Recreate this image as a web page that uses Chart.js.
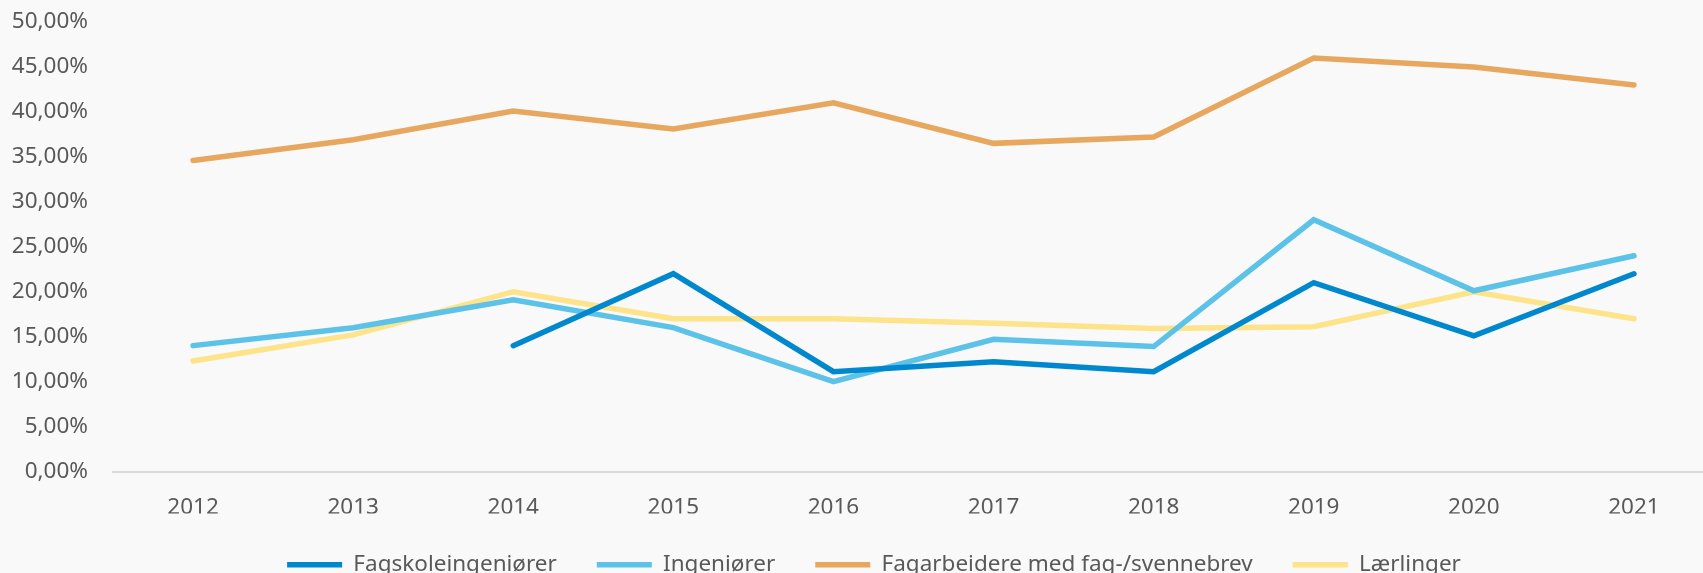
<!DOCTYPE html>
<html>
<head>
<meta charset="utf-8">
<script src="https://cdn.jsdelivr.net/npm/chart.js@4/dist/chart.umd.min.js"></script>
<style>
  html, body { margin: 0; padding: 0; background: #f9f9f9; overflow: hidden; }
  #wrap { position: relative; width: 1720px; height: 586px; }
</style>
</head>
<body>
<div id="wrap"><canvas id="myChart"></canvas></div>
<script>
const years = ['2012', '2013', '2014', '2015', '2016', '2017', '2018', '2019', '2020', '2021'];

const fagskoleingeniorer = [null, null, 14.0, 22.0, 11.1, 12.2, 11.1, 21.0, 15.1, 22.0];
const ingeniorer = [14.0, 16.0, 19.1, 16.0, 10.0, 14.7, 13.9, 28.0, 20.1, 24.0];
const fagarbeidere = [34.6, 36.9, 40.1, 38.1, 41.0, 36.5, 37.2, 46.0, 45.0, 43.0];
const laerlinger = [12.3, 15.2, 20.0, 17.0, 17.0, 16.5, 15.9, 16.1, 20.0, 17.0];

const seriesNames = ['Fagskoleingeniører', 'Ingeniører', 'Fagarbeidere med fag-/svennebrev', 'Lærlinger'];
const seriesColors = ['#0088cf', '#5cc2e8', '#e8a75f', '#fde38a'];

Chart.defaults.font.family = '"Noto Sans", "Open Sans", sans-serif';
Chart.defaults.font.size = 22.5;
Chart.defaults.color = '#595959';

function line(label, data, color) {
    return {
        label: label,
        data: data,
        borderColor: color,
        backgroundColor: color,
        borderWidth: 5.5,
        borderCapStyle: 'round',
        borderJoinStyle: 'miter',
        pointRadius: 0,
        pointHoverRadius: 0,
        tension: 0,
        fill: false
    };
}

function pct(v) {
    return v.toFixed(2).replace('.', ',') + '%';
}

// the legend sits a bit right of the canvas middle
const shiftLegend = {
    id: 'shiftLegend',
    afterLayout(chart) {
        chart.legend.left += 12;
        chart.legend.right += 12;
    }
};

const ctx = document.getElementById('myChart');
var mychart = new Chart(ctx, {
    type: 'line',
    data: {
        labels: years,
        datasets: [
            line(seriesNames[0], fagskoleingeniorer, seriesColors[0]),
            line(seriesNames[1], ingeniorer, seriesColors[1]),
            line(seriesNames[2], fagarbeidere, seriesColors[2]),
            line(seriesNames[3], laerlinger, seriesColors[3])
        ]
    },
    plugins: [shiftLegend],
    options: {
        responsive: true,
        maintainAspectRatio: false,
        animation: false,
        layout: {
            padding: { left: 10, right: 6, top: 22, bottom: 0 }
        },
        plugins: {
            tooltip: { enabled: false },
            legend: {
                position: 'bottom',
                labels: {
                    usePointStyle: true,
                    pointStyle: 'line',
                    pointStyleWidth: 55,
                    padding: 40,
                    color: '#595959'
                }
            }
        },
        scales: {
            x: {
                offset: true,
                grid: { display: false, drawTicks: false },
                border: { display: true, color: '#d9d9d9', width: 2 },
                ticks: { padding: 23, color: '#595959' },
                afterFit: function (s) { s.height = 42; }
            },
            y: {
                min: 0,
                max: 50,
                // tick marks hidden, tickLength only spaces the labels
                grid: { display: false, drawTicks: true, tickLength: 25 },
                border: { display: false },
                ticks: {
                    stepSize: 5,
                    padding: 0,
                    color: '#595959',
                    callback: function (v) { return pct(v); }
                },
                afterFit: function (s) { s.width = 103; }
            }
        }
    }
});
</script>
</body>
</html>
